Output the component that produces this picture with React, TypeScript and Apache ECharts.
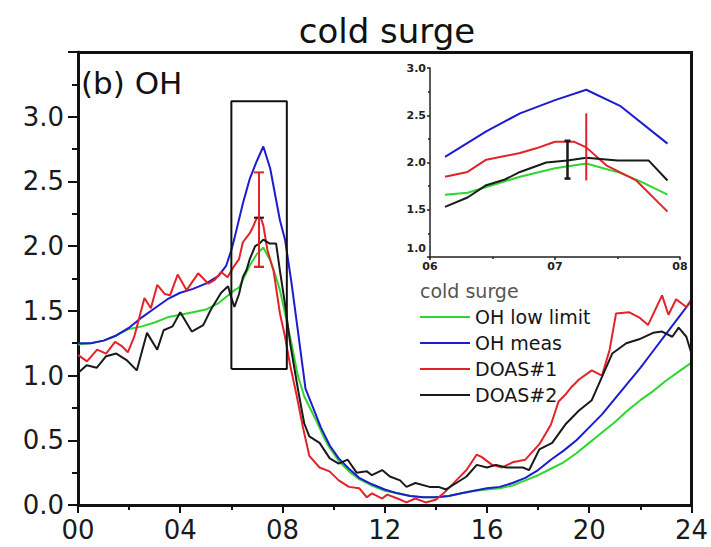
import React, { useEffect, useRef } from "react";
import * as echarts from "echarts";

// Diurnal OH (10^6 molec cm^-3) during the cold surge, hour of day vs concentration.
const ohLowLimit: [number, number][] = [
  [0, 1.24], [0.5, 1.25], [1, 1.27], [1.5, 1.31], [2, 1.36], [2.5, 1.38], [3, 1.41], [3.5, 1.45],
  [4, 1.47], [4.5, 1.49], [5, 1.51], [5.5, 1.56], [6, 1.64], [6.12, 1.66], [6.3, 1.68], [6.45, 1.74],
  [6.72, 1.85], [7, 1.94], [7.25, 1.99], [7.52, 1.89], [7.7, 1.79], [7.9, 1.66], [8.1, 1.48],
  [8.35, 1.25], [8.6, 1.0], [8.85, 0.84], [9.1, 0.74], [9.35, 0.64], [9.6, 0.53], [9.85, 0.44],
  [10.2, 0.34], [10.6, 0.26], [11, 0.2], [11.5, 0.15], [12, 0.11], [12.5, 0.09], [13, 0.07],
  [13.5, 0.06], [14, 0.06], [14.5, 0.07], [15, 0.09], [15.5, 0.11], [16, 0.12], [16.5, 0.13],
  [17, 0.15], [17.5, 0.19], [18, 0.23], [18.5, 0.28], [19, 0.33], [19.5, 0.4], [20, 0.48],
  [20.5, 0.56], [21, 0.64], [21.5, 0.73], [22, 0.81], [22.5, 0.88], [23, 0.96], [23.5, 1.03], [24, 1.1],
];

const ohMeas: [number, number][] = [
  [0, 1.25], [0.5, 1.25], [1, 1.27], [1.5, 1.31], [2, 1.37], [2.5, 1.45], [3, 1.52], [3.5, 1.59],
  [4, 1.64], [4.5, 1.67], [5, 1.71], [5.5, 1.77], [5.8, 1.85], [6, 1.97], [6.12, 2.06], [6.45, 2.33],
  [6.72, 2.52], [7, 2.66], [7.25, 2.77], [7.52, 2.6], [7.9, 2.2], [8.1, 2.05], [8.35, 1.72],
  [8.6, 1.35], [8.9, 0.9], [9.2, 0.75], [9.5, 0.6], [9.85, 0.46], [10.2, 0.36], [10.6, 0.28],
  [11, 0.21], [11.5, 0.16], [12, 0.12], [12.5, 0.09], [13, 0.07], [13.5, 0.06], [14, 0.06],
  [14.5, 0.07], [15, 0.09], [15.5, 0.11], [16, 0.13], [16.5, 0.14], [17, 0.17], [17.5, 0.21],
  [18, 0.27], [18.5, 0.35], [19, 0.42], [19.5, 0.5], [20, 0.6], [20.5, 0.7], [21, 0.82],
  [21.5, 0.94], [22, 1.06], [22.5, 1.19], [23, 1.32], [23.5, 1.45], [24, 1.58],
];

const doas1: [number, number][] = [
  [0, 1.16], [0.35, 1.11], [0.75, 1.2], [1.1, 1.17], [1.45, 1.26], [1.7, 1.23], [1.95, 1.18],
  [2.2, 1.3], [2.6, 1.6], [2.85, 1.52], [3.1, 1.7], [3.4, 1.63], [3.6, 1.62], [3.9, 1.78],
  [4.25, 1.66], [4.7, 1.79], [5.1, 1.71], [5.35, 1.74], [5.6, 1.8], [5.85, 1.76], [6.12, 1.85],
  [6.3, 1.9], [6.45, 2.03], [6.72, 2.1], [6.85, 2.15], [7, 2.22], [7.15, 2.22], [7.25, 2.16],
  [7.41, 1.97], [7.65, 1.81], [7.9, 1.48], [8.1, 1.3], [8.3, 1.08], [8.55, 0.85], [8.8, 0.6],
  [9.05, 0.38], [9.45, 0.29], [9.84, 0.26], [10.2, 0.19], [10.6, 0.14], [11, 0.13], [11.3, 0.06],
  [11.5, 0.09], [11.9, 0.05], [12.1, 0.08], [12.5, 0.05], [12.85, 0.02], [13.2, 0.05], [13.6, 0.02],
  [14, 0.04], [14.3, 0.09], [14.8, 0.19], [15.2, 0.27], [15.6, 0.39], [15.8, 0.37], [16.2, 0.31],
  [16.6, 0.29], [17, 0.33], [17.5, 0.35], [18.05, 0.47], [18.5, 0.62], [18.8, 0.8], [19.1, 0.86],
  [19.3, 0.91], [19.6, 0.97], [20.1, 1.04], [20.5, 1.0], [20.8, 1.2], [21.05, 1.48], [21.55, 1.49],
  [21.95, 1.45], [22.3, 1.39], [22.85, 1.62], [23.1, 1.47], [23.4, 1.59], [23.8, 1.53], [24, 1.59],
];

const doas2: [number, number][] = [
  [0, 1.02], [0.34, 1.08], [0.73, 1.06], [1.1, 1.15], [1.5, 1.17], [1.9, 1.12], [2.3, 1.04],
  [2.7, 1.33], [3.1, 1.2], [3.35, 1.35], [3.7, 1.38], [4, 1.49], [4.45, 1.34], [4.9, 1.39],
  [5.2, 1.51], [5.6, 1.64], [5.87, 1.69], [6, 1.6], [6.12, 1.53], [6.3, 1.63], [6.45, 1.76],
  [6.6, 1.82], [6.72, 1.9], [6.93, 2.0], [7.1, 2.02], [7.25, 2.05], [7.5, 2.02], [7.75, 2.02],
  [7.9, 1.81], [8.1, 1.55], [8.3, 1.25], [8.6, 0.9], [8.85, 0.63], [9.05, 0.53], [9.45, 0.48],
  [9.85, 0.36], [10.2, 0.32], [10.55, 0.35], [10.9, 0.25], [11.3, 0.26], [11.5, 0.23], [11.9, 0.27],
  [12.2, 0.22], [12.6, 0.19], [12.85, 0.14], [13.2, 0.17], [13.75, 0.14], [14.1, 0.14], [14.4, 0.12],
  [14.8, 0.17], [15.2, 0.22], [15.6, 0.31], [16, 0.29], [16.35, 0.31], [16.75, 0.29], [17.1, 0.29],
  [17.4, 0.29], [17.65, 0.27], [18.05, 0.43], [18.55, 0.48], [19.1, 0.63], [19.6, 0.73], [20.1, 0.81],
  [20.5, 0.99], [20.9, 1.17], [21.45, 1.25], [21.95, 1.28], [22.5, 1.33], [22.85, 1.34], [23.25, 1.3],
  [23.5, 1.37], [23.8, 1.3], [24, 1.17],
];

// Error bars: [hour, low, high]
const mainErrorBars = {
  doas2: [[7.08, 1.84, 2.22]],
  doas1: [[7.08, 1.84, 2.57]],
};
const insetErrorBars = {
  doas2: [[7.1, 1.83, 2.23]],
  doas1: [[7.25, 1.81, 2.52]],
};

// Morning window shown enlarged in the inset
const zoomHours = [6, 8.17];
const zoomValues = [1.05, 3.12];
const insetHours = [6.1, 7.95];

// Axis extents of the main panel
const hourRange = [0, 24];
const ohRange = [0, 3.5];

const seriesNames = ["OH low limit", "OH meas", "DOAS#1", "DOAS#2"];
const seriesColors = ["#2fd62f", "#1c1cd0", "#e3222a", "#1a1a1a"];
const seriesData = [ohLowLimit, ohMeas, doas1, doas2];

const FONT = "DejaVu Sans";
const pad2 = (v: number) => (v < 10 ? "0" : "") + v;

// Main plot area, in pixels of the 711 x 547 canvas
const MAIN = { left: 78, top: 52, right: 17, bottom: 42 };
const W = 711;
const H = 547;

function errorBarSeries(
  data: number[][],
  color: string,
  cap: number,
  axisIndex: number,
  width: number
) {
  return {
    type: "custom",
    xAxisIndex: axisIndex,
    yAxisIndex: axisIndex,
    silent: true,
    z: 5,
    data,
    encode: { x: 0, y: [1, 2] },
    renderItem: (_params: any, api: any) => {
      const x = api.value(0);
      const lo = api.coord([x, api.value(1)]);
      const hi = api.coord([x, api.value(2)]);
      const style = { stroke: color, lineWidth: width };
      const children: any[] = [
        { type: "line", shape: { x1: lo[0], y1: lo[1], x2: hi[0], y2: hi[1] }, style },
      ];
      if (cap > 0) {
        children.push(
          { type: "line", shape: { x1: lo[0] - cap, y1: lo[1], x2: lo[0] + cap, y2: lo[1] }, style },
          { type: "line", shape: { x1: hi[0] - cap, y1: hi[1], x2: hi[0] + cap, y2: hi[1] }, style }
        );
      }
      return { type: "group", children };
    },
  };
}

export default function App() {
  const ref = useRef<HTMLDivElement>(null);

  useEffect(() => {
    if (!ref.current) return;
    const chart = echarts.init(ref.current, undefined, { renderer: "svg" });

    const lineSeries = (axisIndex: number, filter: (h: number) => boolean) =>
      seriesData.map((d, i) => ({
        name: seriesNames[i],
        type: "line",
        xAxisIndex: axisIndex,
        yAxisIndex: axisIndex,
        data: d.filter(([h]) => filter(h)),
        symbol: "none",
        color: seriesColors[i],
        lineStyle: { color: seriesColors[i], width: 2 },
        z: 3,
      }));

    const mainLines = lineSeries(0, () => true);
    const insetLines = lineSeries(1, (h) => h >= insetHours[0] && h <= insetHours[1]);

    const box = {
      type: "line",
      xAxisIndex: 0,
      yAxisIndex: 0,
      silent: true,
      symbol: "none",
      data: [
        [zoomHours[0], zoomValues[0]],
        [zoomHours[0], zoomValues[1]],
        [zoomHours[1], zoomValues[1]],
        [zoomHours[1], zoomValues[0]],
        [zoomHours[0], zoomValues[0]],
      ],
      lineStyle: { color: "#111", width: 2 },
      z: 4,
    };

    const mainAxisLine = { show: true, onZero: false, lineStyle: { color: "#111", width: 3 } };
    const insetAxisLine = { show: true, lineStyle: { color: "#222", width: 1.5 } };

    chart.setOption({
      animation: false,
      backgroundColor: "#fff",
      grid: [
        { left: MAIN.left, top: MAIN.top, right: MAIN.right, bottom: MAIN.bottom },
        { left: 430, top: 68, right: 31, bottom: 290 },
      ],
      xAxis: [
        {
          type: "value",
          gridIndex: 0,
          min: hourRange[0],
          max: hourRange[1],
          interval: 4,
          axisLine: mainAxisLine,
          axisTick: { show: true, length: 8, lineStyle: { color: "#111", width: 2 } },
          minorTick: { show: true, splitNumber: 2, length: 5, lineStyle: { color: "#111", width: 2 } },
          splitLine: { show: false },
          axisLabel: {
            formatter: (v: number) => pad2(v),
            fontFamily: FONT,
            fontSize: 26,
            color: "#1a1a1a",
            margin: 12,
          },
        },
        {
          type: "value",
          gridIndex: 1,
          min: 6,
          max: 8,
          interval: 1,
          axisLine: insetAxisLine,
          axisTick: { show: true, length: 3, lineStyle: { color: "#222", width: 1.5 } },
          minorTick: { show: true, splitNumber: 2, length: 2, lineStyle: { color: "#222", width: 1.5 } },
          splitLine: { show: false },
          axisLabel: {
            formatter: (v: number) => pad2(v),
            fontFamily: FONT,
            fontWeight: "bold",
            fontSize: 11,
            color: "#222",
            margin: 4,
          },
        },
      ],
      yAxis: [
        {
          type: "value",
          gridIndex: 0,
          min: ohRange[0],
          max: ohRange[1],
          interval: 0.5,
          axisLine: mainAxisLine,
          axisTick: { show: true, length: 10, lineStyle: { color: "#111", width: 2 } },
          minorTick: { show: true, splitNumber: 2, length: 6, lineStyle: { color: "#111", width: 2 } },
          splitLine: { show: false },
          axisLabel: {
            formatter: (v: number) => (v > 3.01 ? "" : v.toFixed(1)),
            fontFamily: FONT,
            fontSize: 26,
            color: "#1a1a1a",
            margin: 14,
          },
        },
        {
          type: "value",
          gridIndex: 1,
          min: 1,
          max: 3,
          interval: 0.5,
          axisLine: insetAxisLine,
          axisTick: { show: true, length: 3, lineStyle: { color: "#222", width: 1.5 } },
          minorTick: { show: true, splitNumber: 2, length: 2, lineStyle: { color: "#222", width: 1.5 } },
          splitLine: { show: false },
          axisLabel: {
            formatter: (v: number) => (v < 1.01 ? "" : v.toFixed(1)),
            fontFamily: FONT,
            fontWeight: "bold",
            fontSize: 11,
            color: "#222",
            margin: 4,
          },
        },
      ],
      legend: {
        data: seriesNames,
        orient: "vertical",
        left: 420,
        top: 307,
        padding: 0,
        icon: "rect",
        itemWidth: 50,
        itemHeight: 2,
        itemGap: 6,
        selectedMode: false,
        textStyle: { fontFamily: FONT, fontSize: 19, lineHeight: 20, color: "#151515" },
      },
      graphic: [
        {
          type: "text",
          x: 387,
          y: 31,
          style: {
            text: "cold surge",
            fontFamily: FONT,
            fontSize: 34,
            fill: "#111",
            align: "center",
            verticalAlign: "middle",
          },
        },
        {
          type: "text",
          x: 81,
          y: 83,
          style: {
            text: "(b) OH",
            fontFamily: FONT,
            fontSize: 31,
            fill: "#111",
            align: "left",
            verticalAlign: "middle",
          },
        },
        {
          type: "text",
          x: 420,
          y: 291,
          style: {
            text: "cold surge",
            fontFamily: FONT,
            fontSize: 19,
            fill: "#555",
            align: "left",
            verticalAlign: "middle",
          },
        },
        {
          // corner label shared by both inset axes
          type: "text",
          x: 426,
          y: 254,
          style: {
            text: "1.0",
            fontFamily: FONT,
            fontWeight: "bold",
            fontSize: 11,
            fill: "#222",
            align: "right",
            verticalAlign: "bottom",
          },
        },
      ],
      series: [
        ...mainLines,
        box,
        errorBarSeries(mainErrorBars.doas2, seriesColors[3], 5, 0, 2),
        errorBarSeries(mainErrorBars.doas1, seriesColors[2], 5, 0, 2),
        ...insetLines,
        errorBarSeries(insetErrorBars.doas2, seriesColors[3], 3, 1, 2.5),
        errorBarSeries(insetErrorBars.doas1, seriesColors[2], 0, 1, 2),
      ],
    });

    return () => chart.dispose();
  }, []);

  // Top and right edges of the plot frame, laid over the chart
  const frameStyle: React.CSSProperties = {
    position: "absolute",
    left: MAIN.left - 1,
    top: MAIN.top - 1.5,
    width: W - MAIN.right - MAIN.left,
    height: H - MAIN.bottom - MAIN.top + 1.5,
    borderTop: "3px solid #111",
    borderRight: "3px solid #111",
    boxSizing: "border-box",
    pointerEvents: "none",
  };

  return (
    <div style={{ position: "absolute", left: 0, top: 0, width: W, height: H }}>
      <div ref={ref} style={{ width: W, height: H, position: "absolute", left: 0, top: 0 }} />
      <div style={frameStyle} />
    </div>
  );
}
